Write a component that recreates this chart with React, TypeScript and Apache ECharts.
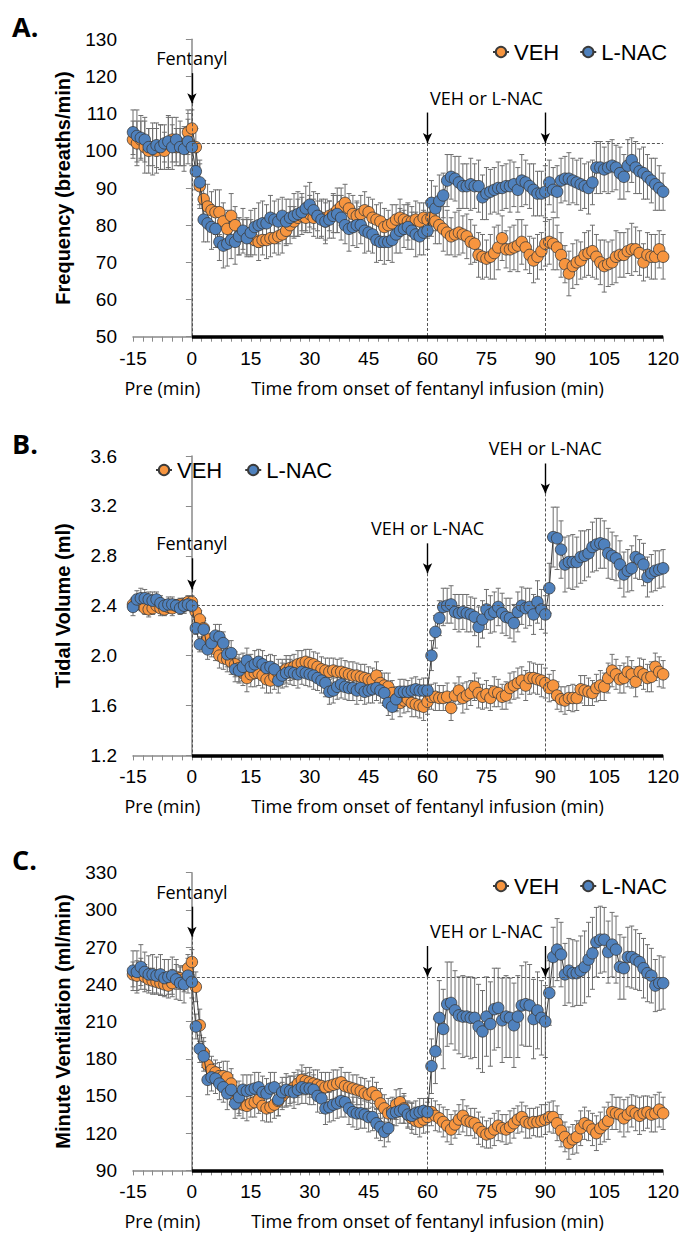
import React, { useEffect, useRef } from "react";
import * as echarts from "echarts";

// sample times (min): -15 .. 120, one sample per minute
const minutes: number[] = Array.from({ length: 136 }, (_, i) => i - 15);

// ---------- Panel A: Frequency (breaths/min) ----------
const freqVEH = [
  103, 102, 103, 101, 100, 101, 100, 101, 100, 102, 103, 101, 102, 101, 105, 106,
  101, 90.5, 87, 85, 84, 83.5, 83.5, 81, 79, 82.5,
  80, 77, 77.5, 77, 76.5, 76, 75.5, 76, 76, 76.5,
  76.5, 77, 77.5, 78.5, 80, 81, 82, 82.5, 82, 83,
  82, 82.5, 82, 81, 82.5, 83, 84, 85, 86, 84.5,
  83, 82.5, 83, 84, 83.5, 82, 81.5, 81, 79.5, 80,
  80.5, 81.5, 82, 81.5, 81, 81, 81.5, 81, 82, 81.5,
  82, 81, 80, 79, 78, 77, 77.5, 78, 77.5, 77,
  75.5, 75, 72, 71.5, 71, 71.5, 72.5, 74, 76.5, 73.5,
  73.5, 74, 74.5, 75.5, 74, 72, 70.5, 71.5, 73, 75,
  75.5, 75, 74, 72, 69.5, 67, 69, 70, 70.5, 72,
  72.5, 73, 71.5, 70, 69, 69.5, 70, 71.5, 72, 72,
  73, 73.5, 73.5, 72.5, 70, 72, 71.5, 71.5, 73.5, 71.5,
];
const freqLNAC = [
  105, 104, 103.5, 103, 101, 100.5, 101.5, 101, 102, 102.5, 101, 103, 101, 100.5, 102.5, 101,
  94.5, 91.5, 81.5, 80.5, 79.5, 79, 75.5, 74.5, 75, 76,
  75.5, 77, 78.5, 76.5, 78, 79.5, 80, 80.5, 80.5, 82,
  81.5, 81, 82.5, 81, 82, 82.5, 83, 83.5, 84.5, 85.5,
  84, 82.5, 81.5, 81, 81.5, 82.5, 83, 82, 80, 79,
  79.5, 80, 80, 78.5, 78, 77.5, 76, 75.5, 75.5, 75.5,
  76, 77.5, 78.5, 79, 79.5, 78.5, 77.5, 77, 78, 78.5,
  86, 84.5, 86.5, 88, 92, 93, 92.5, 91.5, 90.5, 90.5,
  91, 90.5, 90.5, 87.5, 88.5, 89, 89.5, 90, 90, 90.5,
  90.5, 91, 89.5, 92, 91.5, 90.5, 89.5, 88.5, 88.5, 89,
  91.5, 89.5, 89, 92, 92.5, 92.5, 92, 91.5, 91, 90.5,
  90, 91.5, 95.5, 95.5, 95, 95.5, 96, 95.5, 94, 93,
  96, 97.5, 95.5, 94.5, 94, 93, 92, 91, 90, 89,
];
const freqVEHerr = [
  5, 6, 5, 7, 6, 5, 6, 6, 5, 7, 6, 5, 6, 5, 6, 5,
  5, 6, 5, 6, 5, 6, 6, 5, 5, 6, 5, 5, 4, 5, 5, 4, 5, 4, 5, 5,
  4, 5, 5, 4, 5, 4, 5, 5, 4, 5, 5, 4, 5, 5, 4, 5, 6, 5, 5, 4,
  5, 4, 5, 5, 4, 5, 4, 5, 5, 4, 5, 4, 5, 4, 5, 4, 5, 5, 4, 5,
  5, 6, 5, 6, 6, 5, 6, 6, 5, 6, 6, 5, 6, 6, 5, 6, 7, 6, 6, 5,
  6, 6, 7, 6, 6, 5, 6, 6, 5, 6, 6, 7, 6, 6, 5, 6, 6, 6, 5, 6,
  6, 7, 6, 6, 7, 6, 6, 7, 6, 6, 6, 7, 6, 6, 5, 6, 6, 6, 5, 6,
];
const freqLNACerr = [
  6, 7, 6, 6, 5, 7, 6, 6, 5, 7, 6, 6, 5, 6, 6, 5,
  5, 6, 6, 5, 6, 5, 5, 6, 6, 5, 6, 5, 6, 5, 6, 5, 6, 6, 5, 6,
  5, 6, 5, 6, 5, 6, 6, 5, 6, 6, 5, 6, 5, 6, 5, 6, 5, 6, 5, 6,
  5, 6, 5, 6, 5, 5, 6, 5, 6, 5, 6, 5, 6, 5, 6, 5, 6, 5, 6, 5,
  6, 6, 7, 6, 7, 6, 6, 7, 6, 6, 7, 6, 7, 6, 7, 6, 6, 7, 6, 6,
  7, 6, 6, 7, 6, 6, 7, 6, 6, 7, 6, 6, 7, 6, 6, 7, 6, 6, 7, 6,
  7, 6, 7, 7, 6, 7, 7, 6, 7, 6, 7, 6, 7, 6, 7, 6, 6, 7, 6, 5,
];

// ---------- Panel B: Tidal Volume (ml) ----------
const tvVEH = [
  2.41, 2.43, 2.41, 2.38, 2.37, 2.38, 2.40, 2.38, 2.37, 2.39, 2.38, 2.40, 2.41, 2.40, 2.43, 2.43,
  2.35, 2.29, 2.22, 2.13, 2.08, 2.05, 2.00, 1.98, 1.97, 1.95,
  1.93, 1.90, 1.86, 1.82, 1.85, 1.86, 1.86, 1.84, 1.81, 1.80,
  1.83, 1.86, 1.87, 1.89, 1.90, 1.91, 1.93, 1.94, 1.95, 1.94,
  1.93, 1.91, 1.89, 1.88, 1.87, 1.88, 1.87, 1.87, 1.86, 1.85,
  1.84, 1.84, 1.83, 1.82, 1.81, 1.80, 1.84, 1.78, 1.76, 1.75,
  1.70, 1.65, 1.62, 1.64, 1.65, 1.62, 1.61, 1.60, 1.59, 1.63,
  1.67, 1.67, 1.66, 1.66, 1.67, 1.58, 1.68, 1.72, 1.66, 1.68,
  1.70, 1.75, 1.70, 1.67, 1.69, 1.66, 1.71, 1.70, 1.67, 1.68,
  1.74, 1.76, 1.78, 1.80, 1.76, 1.82, 1.82, 1.81, 1.80, 1.78,
  1.74, 1.76, 1.68, 1.65, 1.64, 1.66, 1.66, 1.66, 1.73, 1.72,
  1.71, 1.70, 1.74, 1.76, 1.75, 1.82, 1.88, 1.85, 1.81, 1.82,
  1.87, 1.85, 1.79, 1.87, 1.85, 1.82, 1.83, 1.91, 1.87, 1.85,
];
const tvLNAC = [
  2.39, 2.45, 2.46, 2.46, 2.45, 2.44, 2.45, 2.42, 2.40, 2.41, 2.41, 2.40, 2.38, 2.40, 2.41, 2.40,
  2.22, 2.09, 2.21, 2.05, 2.10, 2.16, 2.15, 2.10, 2.01, 2.02,
  1.89, 1.88, 1.91, 1.96, 1.91, 1.93, 1.95, 1.93, 1.90, 1.91,
  1.89, 1.80, 1.84, 1.86, 1.87, 1.86, 1.85, 1.87, 1.86, 1.85,
  1.84, 1.82, 1.80, 1.78, 1.71, 1.72, 1.75, 1.77, 1.75, 1.74,
  1.74, 1.72, 1.74, 1.71, 1.72, 1.73, 1.74, 1.72, 1.70, 1.62,
  1.59, 1.65, 1.71, 1.71, 1.71, 1.72, 1.73, 1.72, 1.72, 1.72,
  2.00, 2.19, 2.30, 2.39, 2.40, 2.41, 2.35, 2.34, 2.35, 2.34,
  2.33, 2.31, 2.23, 2.29, 2.37, 2.33, 2.35, 2.39, 2.34, 2.31,
  2.30, 2.26, 2.35, 2.40, 2.38, 2.39, 2.33, 2.43, 2.37, 2.33,
  2.54, 2.95, 2.94, 2.85, 2.73, 2.75, 2.75, 2.75, 2.79, 2.80,
  2.82, 2.87, 2.89, 2.90, 2.89, 2.82, 2.80, 2.78, 2.73, 2.65,
  2.68, 2.70, 2.79, 2.77, 2.73, 2.63, 2.66, 2.68, 2.69, 2.70,
];
const tvVEHerr = [
  0.05, 0.06, 0.05, 0.05, 0.06, 0.05, 0.05, 0.06, 0.05, 0.05, 0.06, 0.05, 0.05, 0.06, 0.05, 0.05,
  0.06, 0.07, 0.08, 0.08, 0.09, 0.09, 0.1, 0.09, 0.1, 0.1, 0.1, 0.11, 0.1, 0.11, 0.1, 0.11, 0.1, 0.1, 0.11, 0.1,
  0.1, 0.11, 0.1, 0.11, 0.1, 0.1, 0.11, 0.1, 0.1, 0.11, 0.1, 0.11, 0.1, 0.1, 0.11, 0.1, 0.1, 0.11, 0.1, 0.1,
  0.11, 0.1, 0.1, 0.11, 0.1, 0.1, 0.11, 0.1, 0.1, 0.11, 0.1, 0.1, 0.11, 0.1, 0.1, 0.11, 0.1, 0.1, 0.11, 0.1,
  0.1, 0.11, 0.1, 0.1, 0.11, 0.1, 0.1, 0.11, 0.12, 0.11, 0.1, 0.11, 0.12, 0.1, 0.11, 0.1, 0.12, 0.11, 0.1, 0.11,
  0.12, 0.11, 0.12, 0.11, 0.12, 0.13, 0.12, 0.12, 0.13, 0.12, 0.11, 0.12, 0.11, 0.1, 0.11, 0.1, 0.11, 0.1, 0.11, 0.12,
  0.11, 0.1, 0.11, 0.12, 0.11, 0.12, 0.13, 0.12, 0.11, 0.12, 0.12, 0.11, 0.12, 0.11, 0.12, 0.11, 0.12, 0.11, 0.12, 0.11,
];
const tvLNACerr = [
  0.07, 0.07, 0.08, 0.07, 0.06, 0.07, 0.06, 0.06, 0.05, 0.06, 0.06, 0.05, 0.05, 0.06, 0.05, 0.05,
  0.05, 0.06, 0.07, 0.08, 0.08, 0.09, 0.1, 0.09, 0.1, 0.1, 0.1, 0.1, 0.11, 0.1, 0.1, 0.11, 0.1, 0.11, 0.1, 0.1,
  0.11, 0.1, 0.1, 0.11, 0.1, 0.1, 0.11, 0.1, 0.1, 0.1, 0.11, 0.1, 0.1, 0.11, 0.1, 0.1, 0.1, 0.11, 0.1, 0.1,
  0.1, 0.11, 0.1, 0.1, 0.1, 0.11, 0.1, 0.1, 0.1, 0.1, 0.1, 0.09, 0.1, 0.1, 0.09, 0.1, 0.1, 0.09, 0.1, 0.1,
  0.12, 0.13, 0.14, 0.15, 0.14, 0.15, 0.14, 0.15, 0.14, 0.15, 0.14, 0.15, 0.16, 0.15, 0.16, 0.15, 0.16, 0.15, 0.16, 0.15,
  0.16, 0.15, 0.16, 0.15, 0.16, 0.15, 0.16, 0.17, 0.16, 0.15, 0.2, 0.24, 0.25, 0.23, 0.22, 0.21, 0.22, 0.2, 0.21, 0.2,
  0.19, 0.2, 0.21, 0.2, 0.19, 0.2, 0.19, 0.18, 0.19, 0.18, 0.17, 0.18, 0.17, 0.16, 0.17, 0.16, 0.15, 0.16, 0.15, 0.15,
];

// ---------- Panel C: Minute Ventilation (ml/min) ----------
const mvVEH = [
  248, 247, 250, 246, 244, 243, 242, 241, 240, 239, 241, 246, 245, 244, 253, 258,
  238, 207, 185, 175, 171, 169, 166, 166, 165, 160,
  150, 146, 143, 142, 144, 145, 147, 142, 140, 141,
  143, 146, 150, 153, 155, 157, 160, 163, 162, 161,
  160, 159, 158, 157, 158, 159, 160, 161, 158, 157,
  156, 155, 154, 152, 151, 153, 150, 144, 140, 136,
  138, 143, 145, 140, 135, 132, 130, 129, 131, 133,
  137, 134, 132, 129, 126, 123, 127, 131, 134, 130,
  129, 128, 124, 121, 119, 120, 123, 126, 124, 123,
  125, 128, 131, 133, 129, 128, 129, 129, 130, 131,
  133, 133, 128, 122, 117, 112, 115, 117, 124, 128,
  126, 123, 120, 124, 127, 130, 137, 136, 135, 132,
  135, 138, 136, 134, 136, 137, 135, 136, 139, 136,
];
const mvLNAC = [
  251, 250, 254, 250, 248, 248, 247, 248, 245, 246, 247, 244, 241, 240, 247, 242,
  206, 188, 182, 163, 165, 164, 160, 157, 152, 155,
  144, 149, 155, 154, 155, 156, 157, 153, 152, 156,
  157, 147, 153, 155, 154, 153, 155, 157, 156, 156,
  155, 150, 148, 140, 141, 143, 144, 146, 145, 140,
  137, 136, 136, 135, 133, 133, 128, 125, 121, 124,
  136, 137, 138, 139, 135, 134, 136, 137, 138, 137,
  174, 186, 213, 204, 224, 225, 219, 215, 214, 214,
  213, 213, 206, 202, 214, 208, 220, 221, 211, 214,
  213, 207, 214, 223, 224, 223, 212, 219, 213, 210,
  233, 262, 268, 264, 248, 251, 249, 249, 251, 254,
  260, 265, 274, 276, 276, 266, 272, 268, 254, 253,
  262, 262, 260, 258, 253, 249, 247, 239, 241, 241,
];
const mvVEHerr = [
  10, 12, 11, 10, 9, 10, 9, 10, 9, 10, 11, 10, 9, 10, 11, 10,
  12, 13, 12, 11, 11, 10, 11, 12, 13, 12, 11, 12, 11, 12, 11, 12, 11, 12, 11, 12,
  11, 12, 11, 12, 11, 12, 11, 12, 11, 12, 11, 12, 11, 12, 11, 12, 11, 12, 11, 12,
  11, 12, 11, 12, 11, 12, 11, 12, 11, 12, 11, 12, 11, 12, 11, 12, 11, 12, 11, 12,
  11, 12, 11, 12, 13, 12, 11, 12, 13, 12, 11, 12, 13, 12, 11, 12, 13, 12, 11, 12,
  13, 12, 11, 12, 13, 12, 11, 12, 13, 12, 12, 13, 14, 13, 12, 13, 12, 13, 14, 13,
  12, 13, 14, 13, 14, 15, 14, 13, 14, 15, 14, 13, 14, 15, 14, 13, 14, 15, 14, 13,
];
const mvLNACerr = [
  16, 17, 18, 16, 15, 16, 15, 16, 15, 14, 15, 16, 14, 15, 14, 13,
  10, 11, 12, 12, 11, 12, 13, 12, 13, 12, 12, 13, 12, 13, 12, 13, 12, 13, 12, 13,
  12, 13, 12, 13, 12, 13, 12, 13, 12, 13, 12, 13, 12, 13, 12, 13, 12, 13, 12, 13,
  12, 13, 12, 11, 12, 11, 12, 11, 12, 11, 10, 11, 10, 11, 10, 11, 10, 11, 10, 11,
  22, 26, 30, 32, 34, 33, 32, 31, 33, 32, 33, 32, 34, 33, 32, 34, 33, 32, 34, 33,
  32, 34, 33, 32, 34, 33, 32, 31, 30, 29, 26, 24, 25, 26, 25, 26, 27, 26, 28, 29,
  30, 29, 28, 27, 26, 25, 26, 27, 26, 25, 24, 25, 24, 23, 24, 23, 22, 21, 22, 21,
];

// axis ranges / ticks
const xRange = [-15, 120];
const xTickStep = 15;
const yRanges = [
  { min: 50, max: 130, interval: 10, digits: 0 },
  { min: 1.2, max: 3.6, interval: 0.4, digits: 1 },
  { min: 90, max: 330, interval: 30, digits: 0 },
];
const yTitles = ["Frequency (breaths/min)", "Tidal Volume (ml)", "Minute Ventilation (ml/min)"];
const panelLetters = ["A.", "B.", "C."];
const baselines = [102, 2.4, 246];
// arrows: [x, top value, tip value]
const arrowsA = [[0, 120.9, 112.8], [60, 110.3, 102.1], [90, 110.3, 102.1]];
const arrowsB = [[0, 2.78, 2.53], [60, 2.9, 2.66], [90, 3.54, 3.3]];
const arrowsC = [[0, 302.6, 278.4], [60, 270.9, 246.2], [90, 270.9, 246.2]];
const arrowSets = [arrowsA, arrowsB, arrowsC];
// labels: [text, x, anchor value (arrow top)]
const labelSets: [string, number, number][][] = [
  [["Fentanyl", 0, 120.9], ["VEH or L-NAC", 75, 110.3]],
  [["Fentanyl", 0, 2.78], ["VEH or L-NAC", 60, 2.9], ["VEH or L-NAC", 90, 3.54]],
  [["Fentanyl", 0, 302.6], ["VEH or L-NAC", 75, 270.9]],
];

const ORANGE = "#F7953F";
const BLUE = "#4F81BD";
const AXIS_GREY = "#8a8a8a";
const grids = [
  { left: 133, top: 39.3, width: 530.3, height: 297.4 },
  { left: 133, top: 456, width: 530.3, height: 299.4 },
  { left: 133, top: 872.7, width: 530.3, height: 297.7 },
];
const legendPos = [
  { left: 492, top: 41, itemGap: 20 },
  { left: 155, top: 459, itemGap: 22 },
  { left: 492, top: 875, itemGap: 20 },
];

function errSeries(idx: number, name: string, vals: number[], errs: number[]) {
  return {
    type: "custom",
    name,
    xAxisIndex: idx,
    yAxisIndex: idx,
    z: 1,
    silent: true,
    encode: { x: 0, y: [1, 2] },
    data: minutes.map((m, i) => [m, vals[i] - errs[i], vals[i] + errs[i]]),
    renderItem: (_p: any, api: any) => {
      const x = api.value(0);
      const hi = api.coord([x, api.value(2)]);
      const lo = api.coord([x, api.value(1)]);
      const w = 2.5;
      const st = { stroke: "#6e6e6e", lineWidth: 1 };
      return {
        type: "group",
        children: [
          { type: "line", shape: { x1: hi[0], y1: hi[1], x2: lo[0], y2: lo[1] }, style: st },
          { type: "line", shape: { x1: hi[0] - w, y1: hi[1], x2: hi[0] + w, y2: hi[1] }, style: st },
          { type: "line", shape: { x1: lo[0] - w, y1: lo[1], x2: lo[0] + w, y2: lo[1] }, style: st },
        ],
      };
    },
  };
}

function lineSeries(idx: number, name: string, vals: number[], color: string, z: number, markLine?: any) {
  return {
    type: "line",
    name,
    xAxisIndex: idx,
    yAxisIndex: idx,
    z,
    clip: false,
    symbol: "circle",
    symbolSize: 11.5,
    showSymbol: true,
    showAllSymbol: true,
    itemStyle: { color, borderColor: "#3a3a3a", borderWidth: 0.8 },
    lineStyle: { color: "#3a3a3a", width: 1 },
    data: minutes.map((m, i) => [m, vals[i]]),
    markLine,
  };
}

function guideLines(idx: number) {
  const arr = arrowSets[idx];
  const ymin = yRanges[idx].min;
  const dashed = { type: [3, 2], color: "#555", width: 1 };
  const data: any[] = arr.map(([x, , tip]) => [
    { coord: [x, tip], lineStyle: dashed },
    { coord: [x, ymin] },
  ]);
  data.push([{ coord: [0, baselines[idx]], lineStyle: dashed }, { coord: [120, baselines[idx]] }]);
  data.push([{ coord: [0, ymin], lineStyle: { type: "solid", color: "#000", width: 3.5 } }, { coord: [120, ymin] }]);
  return { silent: true, symbol: ["none", "none"], label: { show: false }, lineStyle: dashed, data };
}

function arrowLines(idx: number) {
  const arr = arrowSets[idx];
  return {
    silent: true,
    symbol: ["none", "arrow"],
    symbolSize: [7, 10],
    label: { show: false },
    lineStyle: { type: "solid", color: "#000", width: 1.4 },
    data: arr.map(([x, top, tip]) => [{ coord: [x, top] }, { coord: [x, tip] }]),
  };
}

export default function App() {
  const ref = useRef<HTMLDivElement>(null);
  useEffect(() => {
    if (!ref.current) return;
    const chart = echarts.init(ref.current, undefined, { renderer: "svg" });
    const tickFont = { fontFamily: "Liberation Sans", fontSize: 19, color: "#000" };
    const option: any = {
      animation: false,
      backgroundColor: "#fff",
      grid: grids.map((g) => ({ ...g, containLabel: false })),
      xAxis: grids.map((_, i) => ({
        type: "value",
        gridIndex: i,
        min: xRange[0],
        max: xRange[1],
        interval: xTickStep,
        axisLine: { show: true, onZero: false, lineStyle: { color: AXIS_GREY, width: 1.5 } },
        axisTick: { show: true, length: 5, lineStyle: { color: AXIS_GREY, width: 1 } },
        minorTick: { show: true, splitNumber: 6, length: 5, lineStyle: { color: AXIS_GREY, width: 1 } },
        splitLine: { show: false },
        axisLabel: { ...tickFont, margin: 12 },
      })),
      yAxis: yRanges.map((r, i) => ({
        type: "value",
        gridIndex: i,
        min: r.min,
        max: r.max,
        interval: r.interval,
        axisLine: { show: true, lineStyle: { color: AXIS_GREY, width: 1.5 } },
        axisTick: { show: true, length: 6, lineStyle: { color: AXIS_GREY, width: 1 } },
        splitLine: { show: false },
        axisLabel: { ...tickFont, margin: 16, formatter: (v: number) => v.toFixed(r.digits) },
      })),
      legend: legendPos.map((p) => ({
        data: ["VEH", "L-NAC"],
        left: p.left,
        top: p.top,
        itemGap: p.itemGap,
        itemWidth: 16,
        itemHeight: 13,
        padding: 0,
        selectedMode: false,
        textStyle: { fontFamily: "Liberation Sans", fontSize: 22, color: "#000" },
      })),
      series: [
        errSeries(0, "VEH err", freqVEH, freqVEHerr),
        errSeries(0, "L-NAC err", freqLNAC, freqLNACerr),
        lineSeries(0, "VEH", freqVEH, ORANGE, 2, guideLines(0)),
        lineSeries(0, "L-NAC", freqLNAC, BLUE, 3, arrowLines(0)),
        errSeries(1, "VEH err", tvVEH, tvVEHerr),
        errSeries(1, "L-NAC err", tvLNAC, tvLNACerr),
        lineSeries(1, "VEH", tvVEH, ORANGE, 2, guideLines(1)),
        lineSeries(1, "L-NAC", tvLNAC, BLUE, 3, arrowLines(1)),
        errSeries(2, "VEH err", mvVEH, mvVEHerr),
        errSeries(2, "L-NAC err", mvLNAC, mvLNACerr),
        lineSeries(2, "VEH", mvVEH, ORANGE, 2, guideLines(2)),
        lineSeries(2, "L-NAC", mvLNAC, BLUE, 3, arrowLines(2)),
      ],
    };
    chart.setOption(option);

    const annFont = { fontFamily: "Open Sans", fontSize: 18, fill: "#000" };
    const els: any[] = [];
    grids.forEach((g, i) => {
      const conv = (x: number, y: number) =>
        chart.convertToPixel({ xAxisIndex: i, yAxisIndex: i }, [x, y]) as number[];
      const axisY = conv(0, yRanges[i].min)[1];
      const topY = conv(0, yRanges[i].max)[1];
      // panel letter
      els.push({
        type: "text",
        x: 12,
        y: topY - 13,
        style: { text: panelLetters[i], fontFamily: "Open Sans", fontWeight: "bold", fontSize: 27, fill: "#000", align: "left", verticalAlign: "middle" },
      });
      // y title
      els.push({
        type: "text",
        x: 63,
        y: (axisY + topY) / 2,
        rotation: Math.PI / 2,
        style: { text: yTitles[i], fontFamily: "Liberation Sans", fontWeight: "bold", fontSize: 20, fill: "#000", align: "center", verticalAlign: "middle" },
      });
      // second line of x labels
      const preX = conv(-7.5, 0)[0];
      const timeX = conv(60, 0)[0];
      els.push({ type: "text", x: preX, y: axisY + 51, style: { ...annFont, text: "Pre (min)", align: "center", verticalAlign: "middle" } });
      els.push({ type: "text", x: timeX, y: axisY + 51, style: { ...annFont, text: "Time from onset of fentanyl infusion (min)", align: "center", verticalAlign: "middle" } });
      // annotation labels
      labelSets[i].forEach(([txt, x, v]) => {
        const p = conv(x, v);
        els.push({ type: "text", x: p[0], y: p[1] - 15, style: { ...annFont, text: txt, align: "center", verticalAlign: "middle" } });
      });
    });
    chart.setOption({ graphic: { elements: els } });

    return () => chart.dispose();
  }, []);
  return (
    <div
      ref={ref}
      style={{ position: "absolute", left: 0, top: 0, width: 682, height: 1234, background: "#fff" }}
    />
  );
}
